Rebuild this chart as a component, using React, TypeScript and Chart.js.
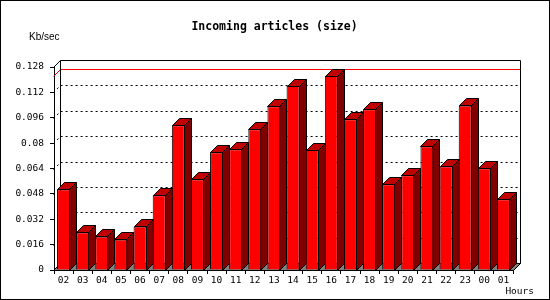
import React, { useEffect, useRef } from "react";
import { Chart, registerables } from "chart.js";

Chart.register(...registerables);

const hours = ["02","03","04","05","06","07","08","09","10","11","12","13","14","15","16","17","18","19","20","21","22","23","00","01"];
const sizeKbps = [0.0509,0.0238,0.0212,0.0193,0.0275,0.0471,0.0912,0.0572,0.0742,0.0761,0.0887,0.1032,0.1160,0.0757,0.1223,0.0950,0.1013,0.0540,0.0597,0.0780,0.0654,0.1038,0.0641,0.0446];
const yTickLabels = ["0","0.016","0.032","0.048","0.064","0.08","0.096","0.112","0.128"];
const yStep = 0.016;
const yMax = 0.128;
const gridValues = [0.016,0.032,0.048,0.064,0.08,0.096,0.112];
const titleText = "Incoming articles (size)";
const yTitle = "Kb/sec";
const xTitle = "Hours";

const D = 7;
const MONO = '"DejaVu Sans Mono", monospace';

const plugin3d = {
  id: "plot3d",
  beforeDatasetsDraw(chart: any) {
    const { ctx, chartArea } = chart;
    const { left, right, top, bottom } = chartArea;
    const y = chart.scales.y;
    const L = Math.round(left) - 0.5;
    const R = Math.round(right) + 0.5;
    const T = Math.round(top) + 0.5;
    const B = Math.round(bottom) + 0.5;
    ctx.save();
    ctx.lineWidth = 1;
    // floor
    ctx.beginPath();
    ctx.moveTo(L, B);
    ctx.lineTo(R, B);
    ctx.lineTo(R + D, B - D);
    ctx.lineTo(L + D, B - D);
    ctx.closePath();
    ctx.fillStyle = "#808080";
    ctx.fill();
    ctx.strokeStyle = "#000";
    ctx.stroke();
    // dotted grid on back wall
    ctx.setLineDash([2, 3]);
    for (const v of gridValues) {
      const py = Math.round(y.getPixelForValue(v)) + 0.5;
      ctx.beginPath();
      ctx.moveTo(L, py);
      ctx.lineTo(L + D, py - D);
      ctx.lineTo(R + D, py - D);
      ctx.stroke();
    }
    ctx.setLineDash([]);
    // max line
    const mx = Math.max(...sizeKbps);
    const my = Math.round(y.getPixelForValue(mx)) + 0.5;
    ctx.strokeStyle = "#ff0000";
    ctx.beginPath();
    ctx.moveTo(L, my);
    ctx.lineTo(L + D, my - D);
    ctx.lineTo(R + D, my - D);
    ctx.stroke();
    // back frame
    ctx.strokeStyle = "#000";
    ctx.beginPath();
    ctx.moveTo(L, T);
    ctx.lineTo(L + D, T - D);
    ctx.lineTo(R + D, T - D);
    ctx.lineTo(R + D, B - D);
    ctx.lineTo(R, B);
    ctx.moveTo(L + D, T - D);
    ctx.lineTo(L + D, B - D);
    ctx.stroke();
    // 3D faces of bars
    const meta = chart.getDatasetMeta(0);
    meta.data.forEach((bar: any) => {
      const p = bar.getProps(["x", "y", "base", "width"], true);
      const l = Math.round(p.x - p.width / 2) + 0.5;
      const r = Math.round(p.x + p.width / 2) - 0.5;
      const t = Math.round(p.y) + 0.5;
      const b = Math.round(p.base) + 0.5;
      // side
      ctx.beginPath();
      ctx.moveTo(r, t);
      ctx.lineTo(r + D, t - D);
      ctx.lineTo(r + D, b - D);
      ctx.lineTo(r, b);
      ctx.closePath();
      ctx.fillStyle = "#800000";
      ctx.fill();
      ctx.stroke();
      // top
      ctx.beginPath();
      ctx.moveTo(l, t);
      ctx.lineTo(l + D, t - D);
      ctx.lineTo(r + D, t - D);
      ctx.lineTo(r, t);
      ctx.closePath();
      ctx.fillStyle = "#c00000";
      ctx.fill();
      ctx.stroke();
    });
    ctx.restore();
  },
  afterDraw(chart: any) {
    const { ctx, width, height } = chart;
    ctx.save();
    ctx.fillStyle = "#000";
    ctx.textBaseline = "middle";
    ctx.textAlign = "center";
    ctx.font = `bold 11.5px ${MONO}`;
    ctx.fillText(titleText, 274.5, 27);
    ctx.textAlign = "left";
    ctx.font = '10px "Liberation Sans", sans-serif';
    ctx.fillText(yTitle, 29, 37);
    ctx.textAlign = "right";
    ctx.font = `9.5px ${MONO}`;
    ctx.fillText(xTitle, 534, 292);
    ctx.strokeStyle = "#000";
    ctx.lineWidth = 1;
    ctx.strokeRect(0.5, 0.5, width - 1, height - 1);
    ctx.restore();
  },
};

export default function App() {
  const ref = useRef<HTMLCanvasElement>(null);
  useEffect(() => {
    document.body.style.margin = "0";
    const chart = new Chart(ref.current!, {
      type: "bar",
      data: {
        labels: hours,
        datasets: [
          {
            data: sizeKbps,
            backgroundColor: "#ff0000",
            borderColor: "#000000",
            borderWidth: 1,
            categoryPercentage: 1,
            barPercentage: 0.68,
          },
        ],
      },
      options: {
        responsive: false,
        devicePixelRatio: 1,
        animation: false,
        layout: { padding: { top: 67, right: 37, left: 0, bottom: 0 } },
        plugins: { legend: { display: false }, tooltip: { enabled: false }, title: { display: false } },
        scales: {
          x: {
            offset: true,
            grid: { display: true, drawOnChartArea: false, drawTicks: true, tickLength: 4, color: "#000", offset: true },
            border: { display: true, color: "#000" },
            ticks: { font: { family: MONO, size: 9.5 }, color: "#000", padding: 1, autoSkip: false, maxRotation: 0 },
            afterFit: (s: any) => { s.height = 30; },
          },
          y: {
            min: 0,
            max: yMax,
            grid: { display: true, drawOnChartArea: false, drawTicks: true, tickLength: 4, color: "#000" },
            border: { display: true, color: "#000" },
            ticks: {
              stepSize: yStep,
              font: { family: MONO, size: 9.5 },
              color: "#000",
              padding: 6,
              callback: (v: any) => yTickLabels[Math.round(Number(v) / yStep)] ?? "",
            },
            afterFit: (s: any) => { s.width = 54; },
          },
        },
      },
      plugins: [plugin3d],
    } as any);
    return () => chart.destroy();
  }, []);
  return <canvas ref={ref} width={550} height={300} style={{ display: "block" }} />;
}
